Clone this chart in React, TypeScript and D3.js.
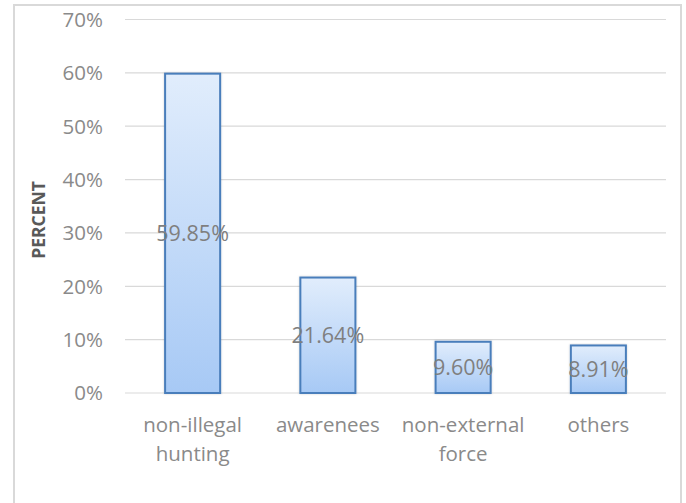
import React from "react";
import * as d3 from "d3";

const categories: string[][] = [["non-illegal", "hunting"], ["awarenees"], ["non-external", "force"], ["others"]];
const values: number[] = [0.5985, 0.2164, 0.096, 0.0891];
const valueLabels: string[] = ["59.85%", "21.64%", "9.60%", "8.91%"];
const yTicks: number[] = [0, 0.1, 0.2, 0.3, 0.4, 0.5, 0.6, 0.7];
const yTitle = "PERCENT";

const W = 686;
const H = 503;
const FONT = "'Open Sans', sans-serif";

export default function App() {
  const x = d3
    .scaleBand<number>()
    .domain(values.map((_, i) => i))
    .range([125, 666])
    .paddingInner(0.593)
    .paddingOuter(0.2965);
  const y = d3.scaleLinear().domain([0, 0.7]).range([393, 19.5]);
  const fmt = d3.format(".0%");

  return (
    <svg width={W} height={H} style={{ position: "absolute", left: 0, top: 0 }}>
      <defs>
        <linearGradient id="barGrad" x1="0" y1="0" x2="0" y2="1">
          <stop offset="0%" stopColor="#e1edfc" />
          <stop offset="100%" stopColor="#a7c9f5" />
        </linearGradient>
        <filter id="shadow" x="-20%" y="-5%" width="140%" height="110%">
          <feDropShadow dx="0" dy="0" stdDeviation="1.2" floodColor="#000" floodOpacity="0.18" />
        </filter>
      </defs>
      <rect x={0} y={0} width={W} height={H} fill="#fff" />
      <rect x={14} y={5} width={667} height={520} fill="#fff" stroke="#d9d9d9" strokeWidth={2} />

      {yTicks.map((t) => (
        <g key={t}>
          <line x1={125} x2={666} y1={y(t)} y2={y(t)} stroke="#d9d9d9" strokeWidth={1.2} />
          <text
            x={103}
            y={y(t)}
            dy="0.36em"
            textAnchor="end"
            fontFamily={FONT}
            fontSize={20.5}
            fill="#8a8a8a"
          >
            {fmt(t)}
          </text>
        </g>
      ))}

      <text
        transform={`translate(45, 220) rotate(-90)`}
        textAnchor="middle"
        fontFamily={FONT}
        fontWeight="bold"
        fontSize={17.5}
        fill="#595959"
      >
        {yTitle}
      </text>

      {values.map((v, i) => (
        <rect
          key={i}
          x={x(i)!}
          y={y(v)}
          width={x.bandwidth()}
          height={y(0) - y(v)}
          fill="url(#barGrad)"
          stroke="#4a7ebb"
          strokeWidth={2}
          filter="url(#shadow)"
        />
      ))}

      {values.map((v, i) => (
        <text
          key={i}
          x={x(i)! + x.bandwidth() / 2}
          y={(y(v) + y(0)) / 2}
          dy="0.36em"
          textAnchor="middle"
          fontFamily={FONT}
          fontSize={21.5}
          fill="#7f7f7f"
        >
          {valueLabels[i]}
        </text>
      ))}

      {categories.map((lines, i) => (
        <text
          key={i}
          x={x(i)! + x.bandwidth() / 2}
          textAnchor="middle"
          fontFamily={FONT}
          fontSize={20.5}
          fill="#8a8a8a"
        >
          {lines.map((l, j) => (
            <tspan key={j} x={x(i)! + x.bandwidth() / 2} y={432 + j * 29}>
              {l}
            </tspan>
          ))}
        </text>
      ))}
    </svg>
  );
}
